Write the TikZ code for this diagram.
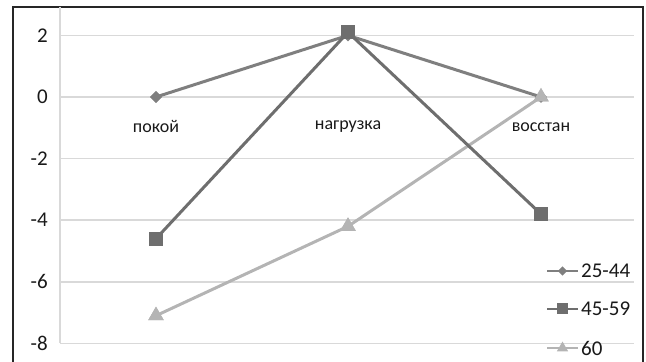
\documentclass[tikz,border=0pt]{standalone}
\usepackage{fontspec}
\setmainfont{Carlito}
\usepackage{tikz}
\usetikzlibrary{positioning,shapes.geometric}
\definecolor{gridgray}{HTML}{D9D9D9}
\definecolor{seriesA}{HTML}{7F7F7F}
\definecolor{seriesB}{HTML}{6E6E6E}
\definecolor{seriesC}{HTML}{B4B4B4}
\tikzset{
grid/.style={draw=gridgray,line width=1.5pt},
lbl/.style={font=\fontsize{18}{20}\selectfont,text=black!90,inner sep=1pt},
num/.style={lbl,font=\fontsize{21}{23}\selectfont},
rhomb/.style={diamond,fill=seriesA,minimum width=12pt,minimum height=12pt,inner sep=0pt},
sq/.style={rectangle,fill=seriesB,minimum width=14pt,minimum height=14pt,inner sep=0pt},
tri/.style={regular polygon,regular polygon sides=3,fill=seriesC,minimum size=18pt,inner sep=0pt},
lineA/.style={draw=seriesA,line width=3pt},
lineB/.style={draw=seriesB,line width=3pt},
lineC/.style={draw=seriesC,line width=3pt}
}
\begin{document}
\begin{tikzpicture}[x=1pt,y=30.8pt]
\useasboundingbox (0,3.149) rectangle (646,-8.604);
% frame, open at the bottom
\draw[black!85,line width=1.2pt] (13,-8.7) -- (13,2.922) -- (643,2.922) -- (643,-8.7);

% grid and value axis
\foreach \v in {2,0,-2,-4,-6,-8}{
\draw[grid] (60,\v) -- (634,\v);
\node[num,anchor=east] (tick\v) at (49,\v) {\v};
}
\draw[grid] (60,2.922) -- (60,-8);

% category labels
\node[lbl] (cat1) at (156,-0.97) {покой};
\node[lbl] (cat2) at (348,-0.97) {нагрузка};
\node[lbl] (cat3) at (541,-0.97) {восстан};

% 60
\node[tri] (c1) at (156,-7.1) {};
\node[tri] (c2) at (348,-4.2) {};
\node[tri] (c3) at (541,0) {};
\draw[lineC] (c1.center) -- (c2.center) -- (c3.center);

% 25-44
\node[rhomb] (a1) at (156,0) {};
\node[rhomb] (a2) at (348,2) {};
\node[rhomb] (a3) at (541,0) {};
\draw[lineA] (a1.center) -- (a2.center) -- (a3.center);

% 45-59
\node[sq] (b1) at (156,-4.6) {};
\node[sq] (b2) at (348,2.1) {};
\node[sq] (b3) at (541,-3.8) {};
\draw[lineB] (b1.center) -- (b2.center) -- (b3.center);

\node[rhomb] at (a1) {};
\node[sq] at (b1) {};
\node[sq] at (b2) {};
\node[sq] at (b3) {};
\node[tri] at (c1) {};
\node[tri] at (c2) {};
\node[tri] at (c3) {};

% legend
\coordinate (la) at (547,-5.65);
\coordinate (lb) at (547,-6.88);
\coordinate (lc) at (547,-8.15);
\draw[lineA,line width=2pt] (la) -- ++(31,0) node[midway,rhomb,minimum width=10pt,minimum height=10pt] (ma) {};
\draw[lineB,line width=2pt] (lb) -- ++(31,0) node[midway,sq,minimum width=11pt,minimum height=11pt] (mb) {};
\draw[lineC,line width=2pt] (lc) -- ++(31,0) node[midway,tri,minimum size=13pt] (mc) {};
\node[num,anchor=west] (ta) at (580,-5.65) {25-44};
\node[num,anchor=west] (tb) at (580,-6.88) {45-59};
\node[num,anchor=west] (tc) at (580,-8.15) {60};
\end{tikzpicture}
\end{document}
